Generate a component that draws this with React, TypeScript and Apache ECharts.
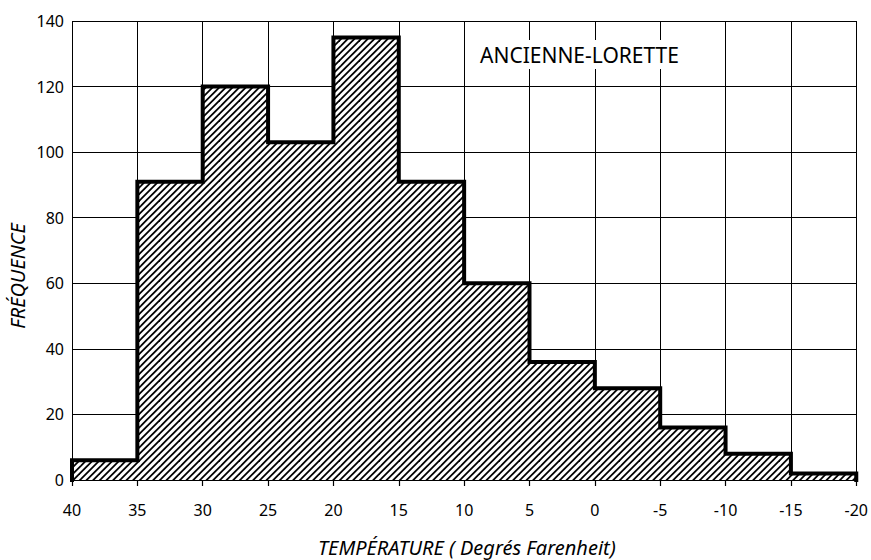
import React, { useEffect, useRef } from "react";
import * as echarts from "echarts";

// Bin edges (°F), from warm to cold, and frequency of each bin
const binEdges = [40, 35, 30, 25, 20, 15, 10, 5, 0, -5, -10, -15, -20];
const frequencies = [6, 91, 120, 103, 135, 91, 60, 36, 28, 16, 8, 2];

const chartTitle = "ANCIENNE-LORETTE";
const xAxisName = "TEMPÉRATURE ( Degrés Farenheit)";
const yAxisName = "FRÉQUENCE";

const FONT = "Noto Sans";

function makeHatch(): HTMLCanvasElement {
  const s = 20;
  const c = document.createElement("canvas");
  c.width = s;
  c.height = s;
  const ctx = c.getContext("2d")!;
  ctx.fillStyle = "#ffffff";
  ctx.fillRect(0, 0, s, s);
  ctx.strokeStyle = "#000000";
  ctx.lineWidth = 1.8;
  const step = s / 3;
  for (let k = 0; k <= 6; k++) {
    const d = k * step;
    ctx.beginPath();
    ctx.moveTo(-2, d + 2);
    ctx.lineTo(d + 2, -2);
    ctx.stroke();
  }
  return c;
}

export default function App() {
  const ref = useRef<HTMLDivElement>(null);

  useEffect(() => {
    if (!ref.current) return;
    const chart = echarts.init(ref.current, undefined, { renderer: "svg" });

    const outline: number[][] = [[binEdges[0], 0]];
    frequencies.forEach((f, i) => {
      outline.push([binEdges[i], f]);
      outline.push([binEdges[i + 1], f]);
    });
    outline.push([binEdges[binEdges.length - 1], 0]);

    const option: any = {
      animation: false,
      backgroundColor: "#ffffff",
      textStyle: { fontFamily: FONT, color: "#000" },
      grid: { left: 72, right: 14, top: 21, bottom: 80, containLabel: false },
      title: {
        text: chartTitle,
        left: 476,
        top: 40,
        padding: [4, 4],
        backgroundColor: "#ffffff",
        textStyle: { fontSize: 21, fontWeight: "normal", color: "#000", fontFamily: FONT },
      },
      xAxis: {
        type: "value",
        min: -20,
        max: 40,
        interval: 5,
        inverse: true,
        offset: 7,
        axisLine: { show: false },
        axisTick: { show: true, length: 6, lineStyle: { color: "#000", width: 1.2 } },
        axisLabel: { color: "#000", fontSize: 16, margin: 15, fontFamily: FONT },
        splitLine: { show: true, lineStyle: { color: "#000", width: 1 } },
      },
      yAxis: {
        type: "value",
        min: 0,
        max: 140,
        interval: 20,
        axisLine: { show: false },
        axisTick: { show: false },
        axisLabel: { color: "#000", fontSize: 16, margin: 8, fontFamily: FONT },
        splitLine: { show: true, lineStyle: { color: "#000", width: 1 } },
      },
      series: [
        {
          type: "line",
          data: outline,
          symbol: "none",
          clip: false,
          lineStyle: { color: "#000", width: 4, join: "miter", cap: "square" },
          areaStyle: { color: { image: makeHatch(), repeat: "repeat" }, opacity: 1 },
          z: 3,
        },
      ],
      graphic: [
        {
          type: "text",
          x: 17,
          y: 276,
          rotation: Math.PI / 2,
          style: {
            text: yAxisName,
            fontSize: 20,
            fontStyle: "italic",
            fontFamily: FONT,
            fill: "#000",
            textAlign: "center",
            textVerticalAlign: "middle",
          },
        },
        {
          type: "text",
          x: 467,
          y: 547,
          style: {
            text: xAxisName,
            fontSize: 20,
            fontStyle: "italic",
            fontFamily: FONT,
            fill: "#000",
            textAlign: "center",
            textVerticalAlign: "middle",
          },
        },
      ],
    };

    chart.setOption(option);
    return () => chart.dispose();
  }, []);

  return (
    <div
      ref={ref}
      style={{ position: "fixed", left: 0, top: 0, width: 871, height: 560, background: "#fff" }}
    />
  );
}
